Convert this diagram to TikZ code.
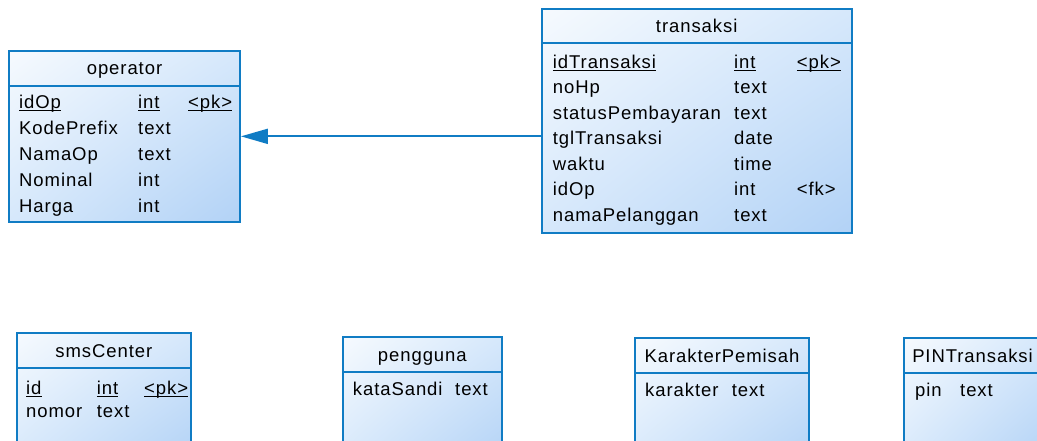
\documentclass[tikz,border=0pt]{standalone}
\usepackage{fontspec}
\setmainfont{Liberation Sans}[LetterSpace=5]
\usetikzlibrary{arrows.meta,calc,shadings}
\definecolor{tblblue}{RGB}{16,124,196}
\definecolor{tblA}{RGB}{246,250,254}
\definecolor{tblB}{RGB}{178,210,246}
\definecolor{tblM}{RGB}{214,232,251}
\tikzset{
  tbl/.style={draw=tblblue, line width=1.8pt, rectangle, inner sep=0pt,
    upper left=tblA, lower right=tblB, upper right=tblM, lower left=tblM},
  sepline/.style={draw=tblblue, line width=1.8pt},
  ttl/.style={inner sep=0pt, font=\fontsize{18.5}{20}\selectfont, anchor=base},
  fld/.style={inner sep=0pt, font=\fontsize{18.5}{20}\selectfont, anchor=base west},
  rel/.style={draw=tblblue, line width=1.8pt, -{Triangle[length=27pt,width=15pt]}}
}
\newcommand{\ul}[1]{{\setbox0\hbox{#1}\rlap{\rule[-2.6pt]{\wd0}{1.1pt}}\box0}}
\begin{document}
\begin{tikzpicture}[x=1pt,y=-1pt]
\useasboundingbox (0,0) rectangle (1037,441);
\clip (0,0) rectangle (1037,441);
% operator
\node[tbl, minimum width=231pt, minimum height=171.3pt] (operator) at (124.5,136.35) {};
\draw[sepline] (9,85.7) -- (240,85.7);
\node[ttl] (opT) at (124.5,74.5) {operator};
\node[fld] (op1) at (19,108.5) {\ul{idOp}};
\node[fld] (op1t) at (138,108.5) {\ul{int}};
\node[fld] (op1k) at (188,108.5) {\ul{<pk>}};
\node[fld] (op2) at (19,135) {KodePrefix};
\node[fld] (op2t) at (138,135) {text};
\node[fld] (op3) at (19,161) {NamaOp};
\node[fld] (op3t) at (138,161) {text};
\node[fld] (op4) at (19,187) {Nominal};
\node[fld] (op4t) at (138,187) {int};
\node[fld] (op5) at (19,213) {Harga};
\node[fld] (op5t) at (138,213) {int};
% transaksi
\node[tbl, minimum width=310pt, minimum height=223.7pt] (transaksi) at (696.7,121.15) {};
\draw[sepline] (541.7,43.3) -- (851.7,43.3);
\node[ttl] (trT) at (696.7,33) {transaksi};
\node[fld] (tr1) at (552.7,68.5) {\ul{idTransaksi}};
\node[fld] (tr1t) at (734,68.5) {\ul{int}};
\node[fld] (tr1k) at (796.7,68.5) {\ul{<pk>}};
\node[fld] (tr2) at (552.7,94) {noHp};
\node[fld] (tr2t) at (734,94) {text};
\node[fld] (tr3) at (552.7,119.5) {statusPembayaran};
\node[fld] (tr3t) at (734,119.5) {text};
\node[fld] (tr4) at (552.7,145) {tglTransaksi};
\node[fld] (tr4t) at (734,145) {date};
\node[fld] (tr5) at (552.7,170.5) {waktu};
\node[fld] (tr5t) at (734,170.5) {time};
\node[fld] (tr6) at (552.7,196) {idOp};
\node[fld] (tr6t) at (734,196) {int};
\node[fld] (tr6k) at (796.7,196) {<fk>};
\node[fld] (tr7) at (552.7,221.5) {namaPelanggan};
\node[fld] (tr7t) at (734,221.5) {text};
% relation
\draw[rel] (transaksi.west |- operator.east) -- (operator.east);
% smsCenter
\node[tbl, minimum width=173.7pt, minimum height=130pt] (sms) at (103.85,397.7) {};
\draw[sepline] (17,368) -- (190.7,368);
\node[ttl] (smsT) at (103.85,357) {smsCenter};
\node[fld] (sms1) at (26,394) {\ul{id}};
\node[fld] (sms1t) at (96.7,394) {\ul{int}};
\node[fld] (sms1k) at (144,394) {\ul{<pk>}};
\node[fld] (sms2) at (26,417) {nomor};
\node[fld] (sms2t) at (96.7,417) {text};
% pengguna
\node[tbl, minimum width=158.7pt, minimum height=130pt] (pengguna) at (422.35,401.7) {};
\draw[sepline] (343,371.7) -- (501.7,371.7);
\node[ttl] (pgT) at (422.35,361) {pengguna};
\node[fld] (pg1) at (352.7,395.5) {kataSandi};
\node[fld] (pg1t) at (455,395.5) {text};
% KarakterPemisah
\node[tbl, minimum width=174pt, minimum height=130pt] (karakter) at (722,403) {};
\draw[sepline] (635,373) -- (809,373);
\node[ttl] (kpT) at (722,362) {KarakterPemisah};
\node[fld] (kp1) at (645,396.5) {karakter};
\node[fld] (kp1t) at (731.7,396.5) {text};
% PINTransaksi
\node[tbl, minimum width=137pt, minimum height=130pt] (pin) at (972.5,403) {};
\draw[sepline] (904,373) -- (1041,373);
\node[ttl] (pinT) at (972.5,362) {PINTransaksi};
\node[fld] (pin1) at (915,396.5) {pin};
\node[fld] (pin1t) at (960,396.5) {text};
\end{tikzpicture}
\end{document}
